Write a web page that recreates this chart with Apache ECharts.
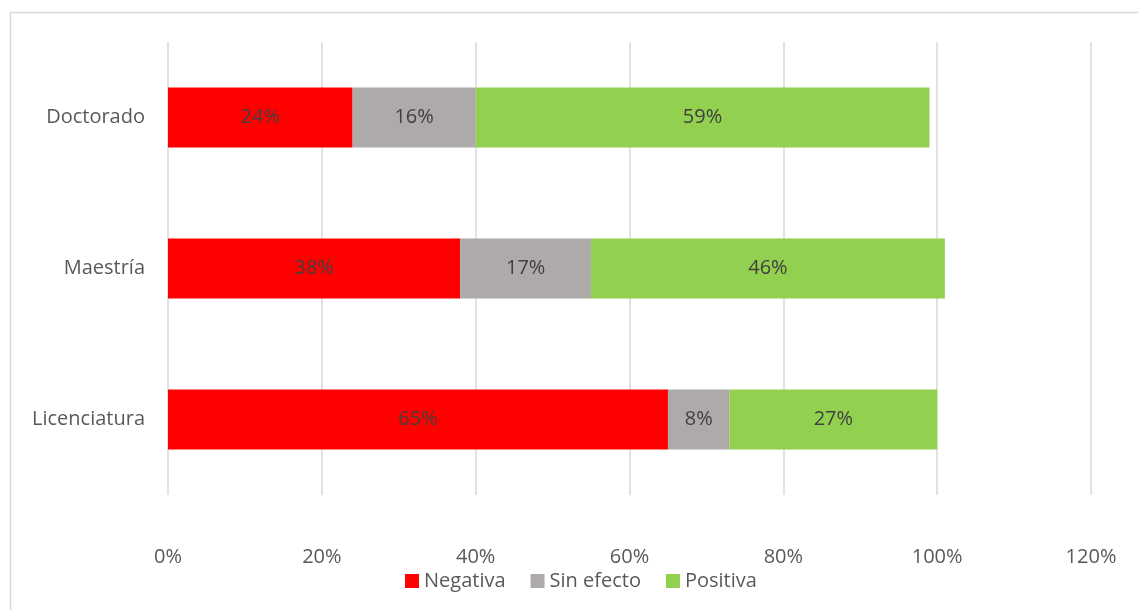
<!DOCTYPE html>
<html>
<head>
<meta charset="utf-8">
<script src="https://cdn.jsdelivr.net/npm/echarts@6/dist/echarts.min.js"></script>
<style>
  html, body { margin: 0; padding: 0; background: #fff; }
  #myChart { width: 1138px; height: 610px; }
</style>
</head>
<body>
<div id="myChart"></div>
<script>
// categories, bottom to top
const categories = ['Licenciatura', 'Maestría', 'Doctorado']
const negativa = [65, 38, 24]
const sinEfecto = [8, 17, 16]
const positiva = [27, 46, 59]
const xTicks = [0, 20, 40, 60, 80, 100, 120]

const font = '"Open Sans", "Noto Sans", sans-serif'

function barSeries(name, data, color) {
  return {
    name: name,
    type: 'bar',
    stack: 'total',
    data: data,
    barWidth: 60,
    itemStyle: { color: color },
    label: {
      show: true,
      position: 'inside',
      formatter: '{c}%',
      color: '#404040',
      fontSize: 20,
      fontFamily: font,
    },
  }
}

let myChart = echarts.init(document.getElementById('myChart'))
let option = {
  animation: false,
  textStyle: { fontFamily: font },
  graphic: [
    {
      type: 'rect',
      shape: { x: 10.5, y: 12.5, width: 1200, height: 700 },
      style: { fill: 'none', stroke: '#d9d9d9', lineWidth: 1.5 },
      silent: true,
    },
  ],
  grid: {
    left: 168,
    right: 47,
    top: 42,
    bottom: 115,
  },
  legend: {
    bottom: 14,
    left: 400,
    itemWidth: 14,
    itemHeight: 14,
    itemGap: 25,
    icon: 'rect',
    textStyle: { color: '#595959', fontSize: 20, fontFamily: font },
    data: ['Negativa', 'Sin efecto', 'Positiva'],
  },
  /*x坐标轴*/
  xAxis: {
    type: 'value',
    min: xTicks[0],
    max: xTicks[xTicks.length - 1],
    interval: 20,
    axisLine: { show: false },
    axisTick: { show: false },
    axisLabel: {
      margin: 52,
      formatter: '{value}%',
      color: '#595959',
      fontSize: 20,
      fontFamily: font,
    },
    splitLine: {
      show: true,
      lineStyle: { color: '#d9d9d9', width: 1.5 },
    },
  },
  /*y坐标轴*/
  yAxis: {
    type: 'category',
    data: categories,
    axisLine: { show: false },
    axisTick: { show: false },
    axisLabel: {
      margin: 23,
      color: '#595959',
      fontSize: 20,
      fontFamily: font,
    },
  },
  series: [
    barSeries('Negativa', negativa, '#ff0000'),
    barSeries('Sin efecto', sinEfecto, '#aeaaaa'),
    barSeries('Positiva', positiva, '#92d050'),
  ],
}
myChart.setOption(option, true)
</script>
</body>
</html>
